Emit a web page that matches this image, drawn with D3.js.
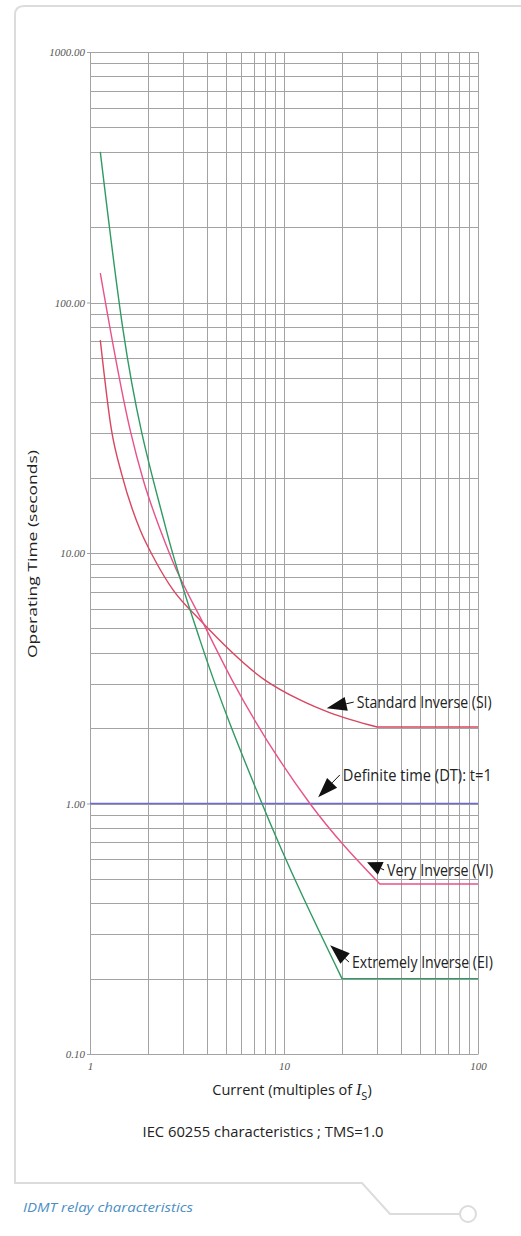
<!DOCTYPE html>
<html>
<head>
<meta charset="utf-8">
<script src="https://cdn.jsdelivr.net/npm/d3@7"></script>
<style>
  html, body { margin: 0; padding: 0; background: #fff; }
  svg { display: block; }
</style>
</head>
<body>
<svg id="chart" width="521" height="1236"></svg>
<script>
// ---- data ----
const xTickValues = [1, 10, 100];
const xTickLabels = ["1", "10", "100"];
const yTickValues = [0.1, 1, 10, 100, 1000];
const yTickLabels = ["0.10", "1.00", "10.00", "100.00", "1000.00"];

const xGridValues = [1, 2, 3, 4, 5, 6, 7, 8, 9, 10, 20, 30, 40, 50, 60, 70, 80, 90, 100];
const yGridValues = [0.1, 0.2, 0.3, 0.4, 0.5, 0.6, 0.7, 0.8, 0.9,
                     1, 2, 3, 4, 5, 6, 7, 8, 9,
                     10, 20, 30, 40, 50, 60, 70, 80, 90,
                     100, 200, 300, 400, 500, 600, 700, 800, 900, 1000];

// Standard Inverse (SI)
const siCurrent = [1.13, 1.29, 1.46, 1.81, 2.16, 2.68, 3.69, 7.98, 12.1, 17.3, 30.2, 100];
const siTime    = [70.8, 31.0, 20.5, 12.4, 9.38, 7.12, 5.40, 3.11, 2.59, 2.30, 2.02, 2.02];
// Very Inverse (VI)
const viCurrent = [1.13, 1.61, 1.88, 2.30, 2.65, 3.92, 5.40, 13.6, 31.2, 100];
const viTime    = [131, 31.0, 19.6, 12.4, 9.38, 5.07, 3.11, 1.0, 0.477, 0.477];
// Extremely Inverse (EI)
const eiCurrent = [1.13, 1.48, 2.47, 3.69, 7.70, 19.9, 100];
const eiTime    = [399, 77.7, 12.4, 4.49, 1.0, 0.2, 0.2];
// Definite time (DT)
const dtCurrent = [1, 100];
const dtTime    = [1, 1];

const annotations = [
  { text: "Standard Inverse (SI)",   tipI: 16.6, tipT: 2.40, txtI: 23.7, txtT: 2.54, width: 135 },
  { text: "Definite time (DT): t=1", tipI: 15.0, tipT: 1.06, txtI: 20.1, txtT: 1.30, width: 149 },
  { text: "Very Inverse (VI)",       tipI: 26.8, tipT: 0.583, txtI: 34.0, txtT: 0.543, width: 106 },
  { text: "Extremely Inverse (EI)",  tipI: 17.3, tipT: 0.272, txtI: 22.4, txtT: 0.233, width: 141 }
];

// ---- drawing ----
const svg = d3.select("#chart");
const x = d3.scaleLog().domain([1, 100]).range([90, 478]);
const y = d3.scaleLog().domain([0.1, 1000]).range([1054, 52]);

// frame decoration
const frame = svg.append("g").attr("fill", "none").attr("stroke", "#dcdcdc").attr("stroke-width", 2);
frame.append("path").attr("d", "M521,6 L24,6 Q15,6 15,15 L15,1183 L362,1183 L390,1214 L460,1214");
frame.append("circle").attr("cx", 468).attr("cy", 1214).attr("r", 8);

// grid
const grid = svg.append("g").attr("stroke", "#a3a3a3").attr("stroke-width", 1).attr("shape-rendering", "crispEdges");
grid.selectAll("line.v").data(xGridValues).join("line").attr("class", "v")
  .attr("x1", d => Math.round(x(d)) + 0.5).attr("x2", d => Math.round(x(d)) + 0.5)
  .attr("y1", y(1000)).attr("y2", y(0.1));
grid.selectAll("line.h").data(yGridValues).join("line").attr("class", "h")
  .attr("y1", d => Math.round(y(d)) + 0.5).attr("y2", d => Math.round(y(d)) + 0.5)
  .attr("x1", x(1)).attr("x2", x(100));

// axes
const yAxis = svg.append("g").attr("transform", `translate(${x(1)},0)`)
  .call(d3.axisLeft(y).tickValues(yTickValues).tickFormat((d, i) => yTickLabels[i]).tickSize(3).tickPadding(2));
const xAxis = svg.append("g").attr("transform", `translate(0,${y(0.1)})`)
  .call(d3.axisBottom(x).tickValues(xTickValues).tickFormat((d, i) => xTickLabels[i]).tickSize(0).tickPadding(8));
[yAxis, xAxis].forEach(a => {
  a.select(".domain").attr("stroke", "#a3a3a3");
  a.selectAll(".tick line").attr("stroke", "#a3a3a3");
  a.selectAll(".tick text").attr("fill", "#555").attr("font-family", "'Liberation Serif', serif")
    .attr("font-style", "italic").attr("font-size", 11);
});

// curves
function pts(I, T) { return I.map((d, i) => [x(d), y(T[i])]); }
function curvePath(I, T) {
  const p = pts(I, T);
  const curved = p.slice(0, p.length - 1);
  const lineGen = d3.line().curve(d3.curveMonotoneX);
  return lineGen(curved) + "L" + p[p.length - 1][0] + "," + p[p.length - 1][1];
}
const curves = svg.append("g").attr("fill", "none").attr("stroke-width", 1.4);
curves.append("path").attr("d", d3.line()(pts(dtCurrent, dtTime))).attr("stroke", "#6b6bd0");
curves.append("path").attr("d", curvePath(siCurrent, siTime)).attr("stroke", "#d8475f");
curves.append("path").attr("d", curvePath(viCurrent, viTime)).attr("stroke", "#e8528a");
curves.append("path").attr("d", curvePath(eiCurrent, eiTime)).attr("stroke", "#2f9a62");

// annotations
const ann = svg.append("g");
annotations.forEach(a => {
  const tx = x(a.tipI), ty = y(a.tipT);
  const sx = x(a.txtI) - 3, sy = y(a.txtT);
  const dx = sx - tx, dy = sy - ty, len = Math.hypot(dx, dy);
  const ux = dx / len, uy = dy / len;
  const headLen = Math.min(20, len * 0.8), hw = 7;
  const bx = tx + ux * headLen, by = ty + uy * headLen;
  ann.append("path")
    .attr("d", `M${tx},${ty} L${bx - uy * hw},${by + ux * hw} L${bx + uy * hw},${by - ux * hw} Z`)
    .attr("fill", "#111");
  ann.append("line").attr("x1", bx).attr("y1", by).attr("x2", sx).attr("y2", sy)
    .attr("stroke", "#111").attr("stroke-width", 1);
  ann.append("text").attr("x", x(a.txtI)).attr("y", sy).attr("dy", "0.36em")
    .attr("font-family", "'Open Sans', sans-serif").attr("font-size", 15.5).attr("fill", "#222")
    .attr("textLength", a.width).attr("lengthAdjust", "spacingAndGlyphs")
    .text(a.text);
});

// titles
const xt = svg.append("text").attr("x", 292).attr("y", 1095).attr("text-anchor", "middle")
  .attr("font-family", "'Open Sans', sans-serif").attr("font-size", 14.5).attr("fill", "#222");
xt.append("tspan").text("Current (multiples of ");
xt.append("tspan").attr("font-style", "italic").attr("font-family", "'Liberation Serif', serif").attr("font-size", 16).text("I");
xt.append("tspan").attr("dy", 5).attr("font-size", 11).text("S");
xt.append("tspan").attr("dy", -5).text(")");

svg.append("text").attr("x", 263).attr("y", 1137).attr("text-anchor", "middle")
  .attr("font-family", "'Open Sans', sans-serif").attr("font-size", 14.5).attr("fill", "#222")
  .attr("textLength", 241).attr("lengthAdjust", "spacingAndGlyphs")
  .text("IEC 60255 characteristics ; TMS=1.0");

svg.append("text").attr("transform", "translate(37,554) rotate(-90)").attr("text-anchor", "middle")
  .attr("font-family", "'Open Sans', sans-serif").attr("font-size", 13.5).attr("fill", "#222")
  .attr("textLength", 208).attr("lengthAdjust", "spacingAndGlyphs")
  .text("Operating Time (seconds)");

svg.append("text").attr("x", 23).attr("y", 1212)
  .attr("font-family", "'Open Sans', sans-serif").attr("font-style", "italic").attr("font-size", 13.5)
  .attr("fill", "#4a8fc4").attr("textLength", 170).attr("lengthAdjust", "spacingAndGlyphs")
  .text("IDMT relay characteristics");
</script>
</body>
</html>
